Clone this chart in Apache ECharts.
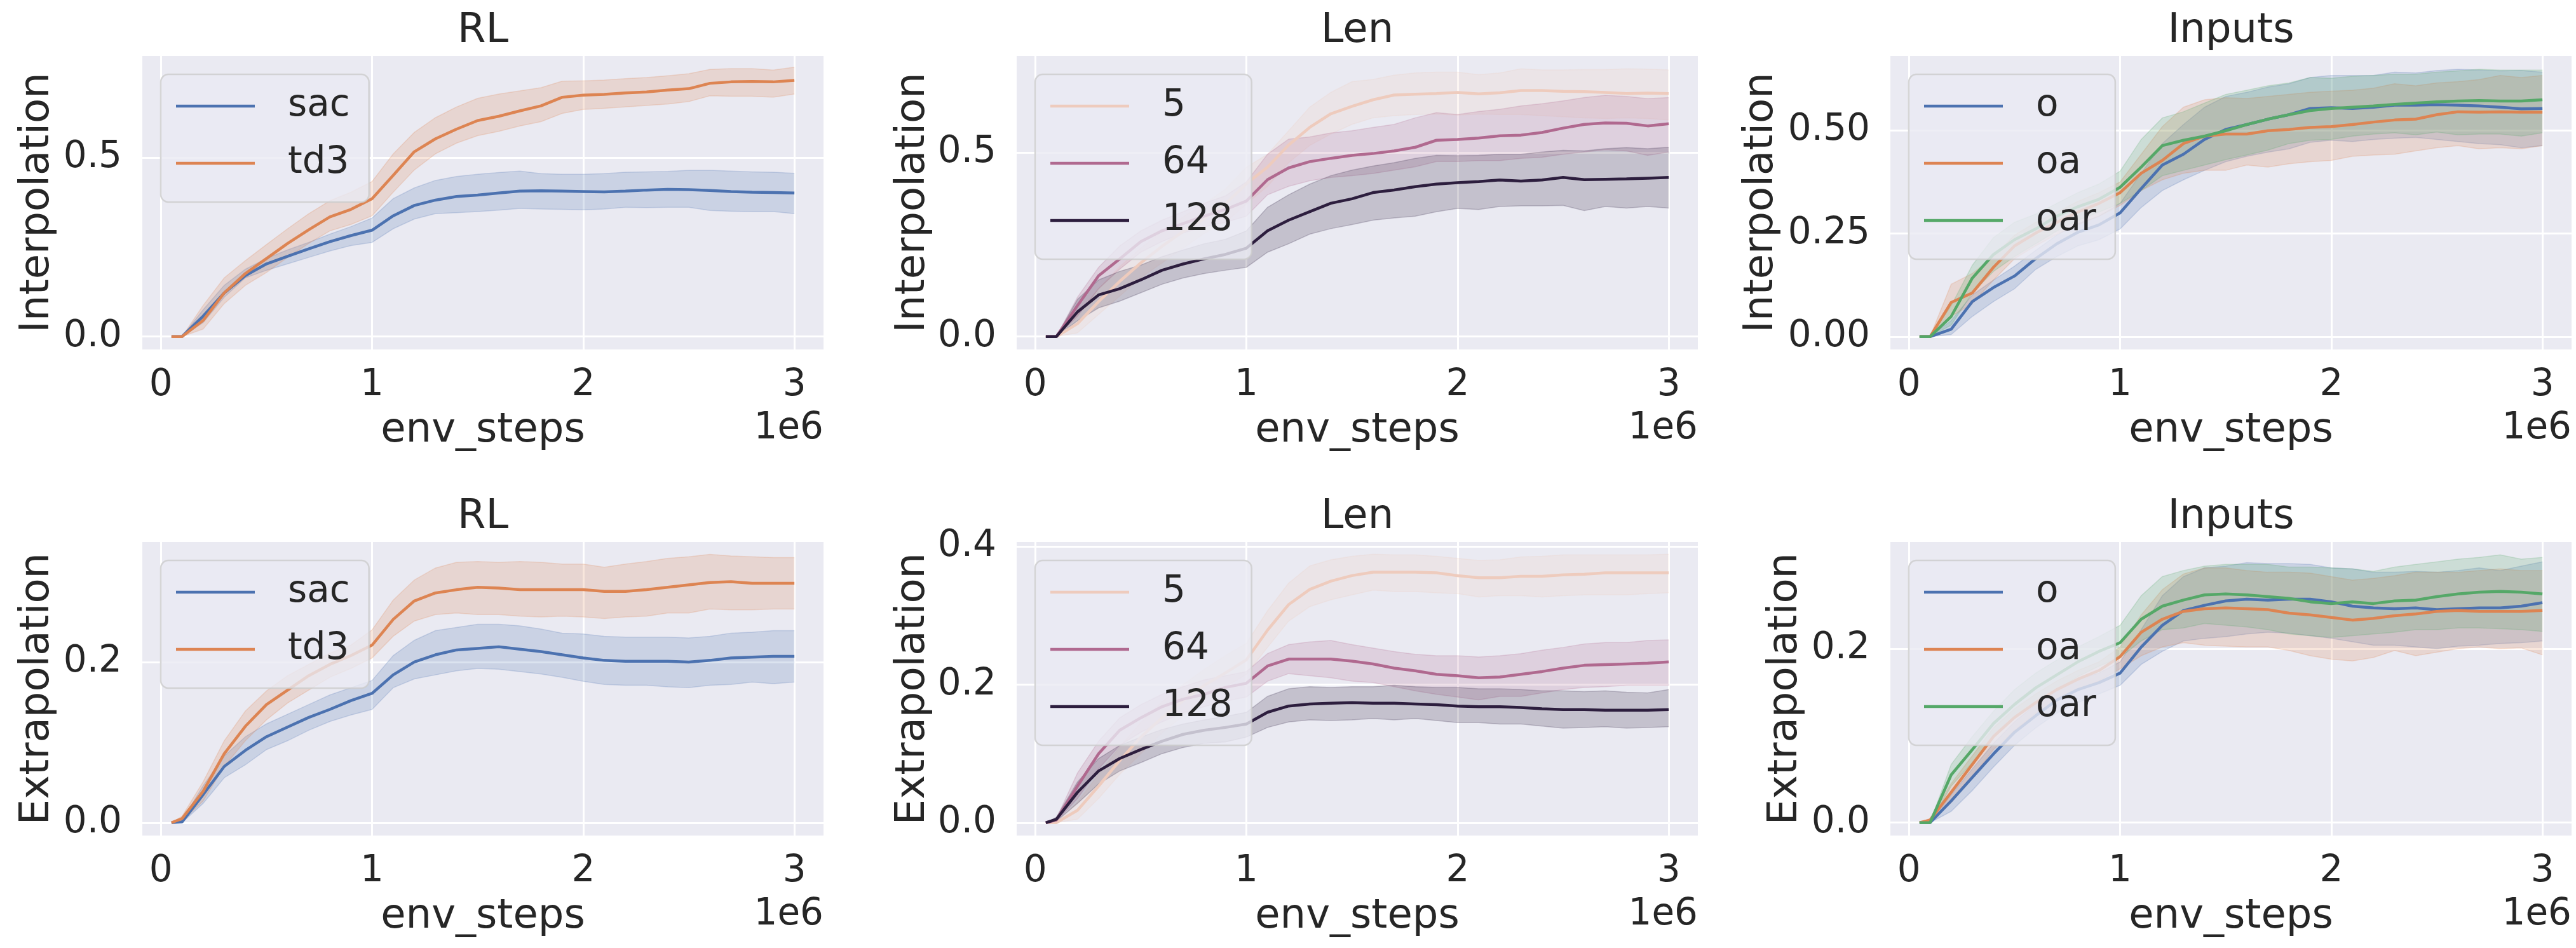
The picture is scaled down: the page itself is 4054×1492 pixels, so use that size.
<!DOCTYPE html>
<html><head><meta charset="utf-8">
<script src="https://cdn.jsdelivr.net/npm/echarts/dist/echarts.min.js"></script>
<style>html,body{margin:0;padding:0;background:#fff}#c{width:4054px;height:1492px}</style>
</head><body><div id="c"></div>
<script>
// ---------------- data ----------------
const envSteps = [50000,100000,200000,300000,400000,500000,600000,700000,800000,900000,1000000,
  1100000,1200000,1300000,1400000,1500000,1600000,1700000,1800000,1900000,2000000,
  2100000,2200000,2300000,2400000,2500000,2600000,2700000,2800000,2900000,3000000];
const xTickValues = [0,1000000,2000000,3000000];

// RL / Interpolation
const rlInterpSacMean = [0,0,0.057,0.122,0.17,0.203,0.224,0.245,0.265,0.282,0.297,0.337,0.366,0.381,0.391,0.395,0.401,0.406,0.407,0.406,0.405,0.404,0.406,0.409,0.411,0.41,0.408,0.405,0.403,0.402,0.401];
const rlInterpSacLo   = [0,0,0.039,0.11,0.164,0.185,0.203,0.221,0.239,0.254,0.263,0.301,0.328,0.343,0.346,0.349,0.353,0.358,0.356,0.355,0.354,0.356,0.361,0.36,0.361,0.361,0.352,0.35,0.349,0.349,0.343];
const rlInterpSacHi   = [0,0,0.075,0.143,0.188,0.218,0.242,0.263,0.286,0.307,0.331,0.385,0.415,0.436,0.447,0.453,0.458,0.462,0.455,0.453,0.453,0.455,0.459,0.46,0.461,0.464,0.464,0.462,0.46,0.459,0.456];
const rlInterpTd3Mean = [0,0,0.045,0.122,0.176,0.218,0.26,0.298,0.334,0.355,0.385,0.45,0.516,0.552,0.579,0.603,0.615,0.63,0.644,0.668,0.674,0.676,0.68,0.683,0.688,0.692,0.707,0.711,0.712,0.711,0.715];
const rlInterpTd3Lo   = [0,0,0.021,0.092,0.143,0.179,0.221,0.26,0.295,0.313,0.337,0.403,0.465,0.51,0.54,0.561,0.573,0.588,0.6,0.623,0.634,0.637,0.641,0.645,0.649,0.656,0.672,0.671,0.671,0.668,0.677];
const rlInterpTd3Hi   = [0,0,0.087,0.164,0.212,0.257,0.301,0.343,0.379,0.403,0.433,0.51,0.57,0.611,0.641,0.665,0.677,0.686,0.695,0.713,0.714,0.716,0.72,0.723,0.728,0.734,0.746,0.748,0.748,0.744,0.752];

// Len / Interpolation
const lenInterp5Mean   = [0,0,0.035,0.095,0.15,0.2,0.245,0.285,0.32,0.36,0.415,0.46,0.52,0.568,0.605,0.625,0.643,0.656,0.658,0.66,0.663,0.659,0.662,0.668,0.668,0.666,0.665,0.663,0.66,0.661,0.66];
const lenInterp5Lo     = [0,0,0.01,0.06,0.11,0.16,0.2,0.24,0.28,0.31,0.36,0.408,0.472,0.519,0.55,0.576,0.594,0.6,0.603,0.604,0.601,0.604,0.603,0.603,0.6,0.597,0.594,0.592,0.594,0.592,0.588];
const lenInterp5Hi     = [0,0,0.06,0.13,0.19,0.24,0.285,0.325,0.36,0.4,0.46,0.495,0.559,0.623,0.663,0.692,0.698,0.71,0.716,0.718,0.718,0.711,0.716,0.727,0.724,0.724,0.725,0.725,0.727,0.726,0.724];
const lenInterp64Mean  = [0,0,0.084,0.165,0.211,0.258,0.287,0.307,0.327,0.345,0.368,0.426,0.458,0.475,0.484,0.492,0.497,0.504,0.514,0.533,0.535,0.539,0.545,0.547,0.554,0.566,0.576,0.58,0.579,0.572,0.578];
const lenInterp64Lo    = [0,0,0.055,0.13,0.183,0.229,0.258,0.281,0.298,0.31,0.327,0.385,0.408,0.423,0.432,0.437,0.443,0.452,0.461,0.475,0.475,0.478,0.478,0.484,0.487,0.495,0.501,0.507,0.504,0.492,0.501];
const lenInterp64Hi    = [0,0,0.107,0.188,0.246,0.287,0.316,0.339,0.362,0.382,0.42,0.495,0.536,0.542,0.553,0.559,0.568,0.576,0.594,0.608,0.603,0.611,0.617,0.626,0.632,0.64,0.649,0.655,0.652,0.646,0.649];
const lenInterp128Mean = [0,0,0.067,0.113,0.13,0.154,0.18,0.197,0.211,0.223,0.24,0.287,0.316,0.339,0.362,0.374,0.391,0.398,0.407,0.414,0.418,0.421,0.425,0.422,0.425,0.432,0.426,0.427,0.428,0.43,0.432];
const lenInterp128Lo   = [0,0,0.043,0.078,0.096,0.119,0.142,0.159,0.171,0.18,0.188,0.229,0.252,0.278,0.293,0.304,0.316,0.322,0.327,0.339,0.348,0.345,0.353,0.355,0.355,0.356,0.342,0.353,0.349,0.353,0.349];
const lenInterp128Hi   = [0,0,0.101,0.154,0.177,0.194,0.217,0.235,0.252,0.264,0.287,0.351,0.385,0.414,0.437,0.452,0.463,0.472,0.484,0.492,0.491,0.492,0.495,0.495,0.501,0.506,0.504,0.51,0.513,0.51,0.514];

// Inputs / Interpolation
const inInterpOMean   = [0,0,0.018,0.085,0.119,0.147,0.189,0.225,0.253,0.271,0.3,0.359,0.416,0.442,0.478,0.502,0.514,0.527,0.538,0.553,0.555,0.553,0.556,0.561,0.561,0.562,0.561,0.559,0.556,0.552,0.553];
const inInterpOLo     = [0,0,0.005,0.049,0.085,0.116,0.163,0.194,0.22,0.235,0.261,0.313,0.354,0.38,0.403,0.424,0.437,0.447,0.455,0.471,0.476,0.473,0.478,0.481,0.483,0.478,0.473,0.468,0.465,0.458,0.463];
const inInterpOHi     = [0,0,0.039,0.101,0.137,0.171,0.209,0.246,0.274,0.292,0.323,0.396,0.468,0.514,0.556,0.582,0.592,0.605,0.613,0.628,0.633,0.633,0.633,0.641,0.639,0.645,0.648,0.646,0.644,0.645,0.641];
const inInterpOaMean  = [0,0,0.083,0.106,0.168,0.22,0.251,0.277,0.302,0.323,0.349,0.396,0.427,0.468,0.486,0.491,0.491,0.499,0.502,0.507,0.509,0.514,0.52,0.525,0.527,0.538,0.545,0.544,0.545,0.544,0.544];
const inInterpOaLo    = [0,0,0.049,0.08,0.137,0.189,0.22,0.248,0.271,0.292,0.318,0.354,0.38,0.396,0.403,0.403,0.416,0.411,0.419,0.424,0.427,0.437,0.44,0.442,0.45,0.458,0.463,0.455,0.458,0.455,0.463];
const inInterpOaHi    = [0,0,0.127,0.153,0.194,0.246,0.277,0.302,0.328,0.349,0.375,0.442,0.509,0.556,0.574,0.579,0.577,0.582,0.587,0.592,0.595,0.597,0.602,0.613,0.608,0.615,0.618,0.623,0.633,0.628,0.633];
const inInterpOarMean = [0,0,0.049,0.142,0.199,0.235,0.261,0.292,0.315,0.333,0.362,0.411,0.463,0.476,0.486,0.499,0.514,0.527,0.538,0.548,0.553,0.556,0.559,0.563,0.566,0.569,0.571,0.572,0.571,0.571,0.574];
const inInterpOarLo   = [0,0,0.028,0.106,0.158,0.194,0.225,0.256,0.282,0.302,0.323,0.354,0.39,0.403,0.416,0.429,0.44,0.452,0.468,0.476,0.478,0.486,0.491,0.494,0.489,0.496,0.489,0.491,0.491,0.486,0.494];
const inInterpOarHi   = [0,0,0.075,0.173,0.24,0.277,0.297,0.323,0.349,0.37,0.401,0.478,0.53,0.545,0.566,0.587,0.597,0.608,0.615,0.628,0.626,0.631,0.633,0.636,0.636,0.641,0.644,0.648,0.646,0.646,0.646];

// RL / Extrapolation
const rlExtrapSacMean = [0,0.001,0.035,0.07,0.09,0.107,0.119,0.131,0.141,0.152,0.161,0.184,0.2,0.209,0.215,0.217,0.219,0.216,0.213,0.209,0.205,0.202,0.201,0.201,0.201,0.2,0.202,0.205,0.206,0.207,0.207];
const rlExtrapSacLo   = [0,0,0.024,0.056,0.072,0.091,0.102,0.115,0.126,0.134,0.141,0.168,0.179,0.184,0.189,0.192,0.191,0.188,0.185,0.181,0.176,0.172,0.171,0.171,0.169,0.168,0.171,0.172,0.175,0.173,0.175];
const rlExtrapSacHi   = [0,0.003,0.046,0.083,0.107,0.123,0.135,0.147,0.159,0.168,0.177,0.208,0.227,0.239,0.243,0.247,0.247,0.245,0.241,0.236,0.235,0.232,0.231,0.231,0.231,0.23,0.232,0.236,0.237,0.239,0.239];
const rlExtrapTd3Mean = [0,0.005,0.039,0.086,0.12,0.147,0.165,0.183,0.197,0.208,0.221,0.253,0.276,0.286,0.29,0.293,0.292,0.29,0.29,0.29,0.29,0.288,0.288,0.29,0.293,0.296,0.299,0.3,0.298,0.298,0.298];
const rlExtrapTd3Lo   = [0,0.002,0.027,0.07,0.102,0.128,0.149,0.165,0.181,0.192,0.205,0.232,0.251,0.259,0.261,0.259,0.259,0.257,0.256,0.257,0.256,0.254,0.256,0.257,0.261,0.261,0.266,0.265,0.265,0.266,0.266];
const rlExtrapTd3Hi   = [0,0.008,0.051,0.102,0.139,0.164,0.183,0.197,0.211,0.221,0.24,0.277,0.302,0.317,0.324,0.325,0.324,0.325,0.324,0.322,0.322,0.318,0.322,0.325,0.329,0.331,0.334,0.332,0.331,0.33,0.33];

// Len / Extrapolation
const lenExtrap5Mean   = [0,0,0.018,0.053,0.09,0.124,0.152,0.177,0.199,0.217,0.236,0.279,0.316,0.338,0.35,0.358,0.363,0.363,0.363,0.362,0.358,0.355,0.355,0.357,0.357,0.359,0.36,0.362,0.362,0.362,0.362];
const lenExtrap5Lo     = [0,0,0.005,0.035,0.07,0.1,0.13,0.155,0.178,0.197,0.215,0.254,0.292,0.313,0.323,0.33,0.337,0.335,0.335,0.333,0.332,0.327,0.329,0.329,0.327,0.329,0.33,0.33,0.33,0.332,0.333];
const lenExtrap5Hi     = [0,0,0.03,0.07,0.11,0.145,0.175,0.2,0.222,0.242,0.26,0.307,0.347,0.372,0.381,0.386,0.389,0.388,0.388,0.386,0.383,0.38,0.381,0.385,0.386,0.388,0.388,0.388,0.388,0.388,0.389];
const lenExtrap64Mean  = [0,0.004,0.053,0.1,0.134,0.152,0.168,0.179,0.186,0.196,0.202,0.227,0.237,0.237,0.237,0.234,0.23,0.224,0.22,0.215,0.213,0.21,0.211,0.215,0.219,0.224,0.228,0.229,0.23,0.231,0.233];
const lenExtrap64Lo    = [0,0.002,0.035,0.078,0.112,0.131,0.146,0.159,0.168,0.176,0.182,0.205,0.216,0.213,0.21,0.205,0.203,0.197,0.191,0.186,0.182,0.178,0.183,0.183,0.188,0.193,0.196,0.197,0.199,0.199,0.199];
const lenExtrap64Hi    = [0,0.006,0.072,0.118,0.152,0.171,0.186,0.197,0.207,0.213,0.219,0.245,0.258,0.262,0.264,0.258,0.253,0.248,0.244,0.242,0.242,0.24,0.242,0.245,0.25,0.254,0.259,0.261,0.261,0.264,0.265];
const lenExtrap128Mean = [0,0.005,0.044,0.075,0.093,0.106,0.118,0.128,0.134,0.138,0.143,0.16,0.169,0.172,0.173,0.174,0.173,0.173,0.172,0.171,0.169,0.168,0.168,0.167,0.165,0.164,0.164,0.163,0.163,0.163,0.164];
const lenExtrap128Lo   = [0,0.002,0.028,0.056,0.075,0.087,0.1,0.109,0.115,0.117,0.124,0.138,0.146,0.149,0.148,0.149,0.151,0.149,0.151,0.148,0.145,0.145,0.143,0.143,0.14,0.137,0.138,0.139,0.137,0.138,0.139];
const lenExtrap128Hi   = [0,0.008,0.059,0.093,0.112,0.124,0.135,0.143,0.149,0.154,0.16,0.183,0.194,0.197,0.196,0.197,0.197,0.199,0.197,0.196,0.196,0.194,0.194,0.193,0.191,0.191,0.19,0.191,0.189,0.188,0.193];

// Inputs / Extrapolation
const inExtrapOMean   = [0,0,0.025,0.052,0.079,0.104,0.123,0.141,0.153,0.161,0.172,0.202,0.227,0.244,0.25,0.255,0.257,0.256,0.257,0.257,0.254,0.249,0.247,0.246,0.247,0.245,0.246,0.247,0.247,0.249,0.253];
const inExtrapOLo     = [0,0,0.013,0.037,0.064,0.089,0.109,0.126,0.138,0.148,0.158,0.182,0.197,0.209,0.212,0.214,0.217,0.219,0.218,0.215,0.212,0.208,0.204,0.204,0.202,0.2,0.203,0.204,0.206,0.207,0.209];
const inExtrapOHi     = [0,0,0.032,0.062,0.091,0.116,0.136,0.153,0.165,0.172,0.185,0.222,0.261,0.283,0.293,0.295,0.299,0.298,0.298,0.297,0.293,0.292,0.288,0.288,0.289,0.288,0.29,0.293,0.29,0.295,0.3];
const inExtrapOaMean  = [0,0.003,0.035,0.067,0.099,0.121,0.138,0.153,0.165,0.175,0.191,0.219,0.234,0.243,0.246,0.247,0.246,0.245,0.241,0.239,0.236,0.233,0.235,0.238,0.24,0.243,0.244,0.243,0.243,0.243,0.244];
const inExtrapOaLo    = [0,0.001,0.023,0.052,0.084,0.106,0.126,0.141,0.153,0.163,0.177,0.192,0.202,0.207,0.204,0.203,0.202,0.202,0.198,0.192,0.188,0.186,0.19,0.198,0.192,0.196,0.2,0.202,0.2,0.201,0.193];
const inExtrapOaHi    = [0,0.005,0.045,0.077,0.109,0.131,0.148,0.163,0.175,0.185,0.202,0.239,0.268,0.286,0.293,0.293,0.29,0.288,0.288,0.287,0.283,0.279,0.281,0.284,0.288,0.288,0.288,0.29,0.292,0.29,0.29];
const inExtrapOarMean = [0,0,0.055,0.084,0.114,0.136,0.155,0.17,0.185,0.197,0.207,0.234,0.249,0.256,0.262,0.263,0.262,0.26,0.258,0.254,0.252,0.254,0.252,0.255,0.256,0.26,0.263,0.265,0.266,0.265,0.263];
const inExtrapOarLo   = [0,0,0.042,0.069,0.099,0.121,0.138,0.153,0.168,0.18,0.19,0.209,0.222,0.224,0.229,0.227,0.225,0.222,0.217,0.215,0.213,0.215,0.217,0.219,0.222,0.222,0.224,0.224,0.223,0.222,0.22];
const inExtrapOarHi   = [0,0,0.067,0.099,0.128,0.153,0.172,0.187,0.202,0.214,0.227,0.261,0.283,0.29,0.295,0.297,0.297,0.297,0.294,0.294,0.293,0.292,0.289,0.294,0.297,0.3,0.303,0.305,0.308,0.303,0.305];

// tick labels per panel
const yTicksRLInterp = [0,0.5], yTicksLenInterp = [0,0.5], yTicksInInterp = [0,0.25,0.5];
const yTicksRLExtrap = [0,0.2], yTicksLenExtrap = [0,0.2,0.4], yTicksInExtrap = [0,0.2];

// ---------------- styling / layout ----------------
const FONT = 'DejaVu Sans', TXT = '#262626';
const BLUE = '#4c72b0', ORANGE = '#dd8452', GREEN = '#55a868';
const L5 = '#eecbbd', L64 = '#b0698f', L128 = '#2d1e3e';
const COLS = [224, 1600, 2975], ROWS = [88, 853], GW = 1072, GH = 462;

const panels = [
  {title:'RL', ylab:'Interpolation', row:0, col:0, yr:[-0.036,0.7835], ticks:yTicksRLInterp, dec:1, ygap:133,
   ser:[['sac',BLUE,rlInterpSacMean,rlInterpSacLo,rlInterpSacHi],['td3',ORANGE,rlInterpTd3Mean,rlInterpTd3Lo,rlInterpTd3Hi]]},
  {title:'Len', ylab:'Interpolation', row:0, col:1, yr:[-0.035,0.762], ticks:yTicksLenInterp, dec:1, ygap:131,
   ser:[['5',L5,lenInterp5Mean,lenInterp5Lo,lenInterp5Hi],['64',L64,lenInterp64Mean,lenInterp64Lo,lenInterp64Hi],['128',L128,lenInterp128Mean,lenInterp128Lo,lenInterp128Hi]]},
  {title:'Inputs', ylab:'Interpolation', row:0, col:2, yr:[-0.031,0.6803], ticks:yTicksInInterp, dec:2, ygap:171,
   ser:[['o',BLUE,inInterpOMean,inInterpOLo,inInterpOHi],['oa',ORANGE,inInterpOaMean,inInterpOaLo,inInterpOaHi],['oar',GREEN,inInterpOarMean,inInterpOarLo,inInterpOarHi]]},
  {title:'RL', ylab:'Extrapolation', row:1, col:0, yr:[-0.016,0.3494], ticks:yTicksRLExtrap, dec:1, ygap:133,
   ser:[['sac',BLUE,rlExtrapSacMean,rlExtrapSacLo,rlExtrapSacHi],['td3',ORANGE,rlExtrapTd3Mean,rlExtrapTd3Lo,rlExtrapTd3Hi]]},
  {title:'Len', ylab:'Extrapolation', row:1, col:1, yr:[-0.0186,0.4067], ticks:yTicksLenExtrap, dec:1, ygap:131,
   ser:[['5',L5,lenExtrap5Mean,lenExtrap5Lo,lenExtrap5Hi],['64',L64,lenExtrap64Mean,lenExtrap64Lo,lenExtrap64Hi],['128',L128,lenExtrap128Mean,lenExtrap128Lo,lenExtrap128Hi]]},
  {title:'Inputs', ylab:'Extrapolation', row:1, col:2, yr:[-0.0148,0.3228], ticks:yTicksInExtrap, dec:1, ygap:133,
   ser:[['o',BLUE,inExtrapOMean,inExtrapOLo,inExtrapOHi],['oa',ORANGE,inExtrapOaMean,inExtrapOaLo,inExtrapOaHi],['oar',GREEN,inExtrapOarMean,inExtrapOarLo,inExtrapOarHi]]}
];

const pts = ys => envSteps.map((x,k)=>[x, ys[k]]);

// error band drawn through the axis scale (api.coord)
function bandSeries(i, c, lo, hi) {
  return {type:'custom', xAxisIndex:i, yAxisIndex:i, silent:true, clip:true,
    data: envSteps.map((x,k)=>[x, lo[k], hi[k]]),
    encode:{x:0, y:[1,2]},
    renderItem:(params, api)=>{
      if (params.dataIndex !== 0) return null;
      const up = envSteps.map((x,k)=>api.coord([x, hi[k]]));
      const dn = envSteps.map((x,k)=>api.coord([x, lo[k]]));
      const poly = up.concat(dn.slice().reverse());
      return {type:'group', children:[
        {type:'polygon', shape:{points:poly}, style:{fill:c, opacity:0.2}},
        {type:'polyline', shape:{points:up}, style:{stroke:c, fill:null, lineWidth:1.5, opacity:0.22}},
        {type:'polyline', shape:{points:dn}, style:{stroke:c, fill:null, lineWidth:1.5, opacity:0.22}}
      ]};
    }};
}

const grid=[], xAxis=[], yAxis=[], series=[], legend=[], graphic=[];
panels.forEach((p,i)=>{
  const left = COLS[p.col], top = ROWS[p.row];
  grid.push({left, top, width:GW, height:GH, show:true, backgroundColor:'#eaeaf2', borderWidth:0, containLabel:false, outerBoundsMode:'none'});
  xAxis.push({gridIndex:i, type:'value', min:-88000, max:3138000,
    axisLine:{show:false}, axisTick:{show:false, customValues:xTickValues},
    axisLabel:{customValues:xTickValues, formatter:v=>String(Math.round(v/1e6)), fontSize:58, color:TXT, fontFamily:FONT, margin:28, hideOverlap:false},
    splitLine:{show:true, lineStyle:{color:'#ffffff', width:3}},
    name:'env_steps', nameLocation:'middle', nameGap:96, nameTextStyle:{fontSize:64, color:TXT, fontFamily:FONT}});
  yAxis.push({gridIndex:i, type:'value', min:p.yr[0], max:p.yr[1],
    axisLine:{show:false}, axisTick:{show:false, customValues:p.ticks},
    axisLabel:{customValues:p.ticks, formatter:v=>v.toFixed(p.dec), fontSize:58, color:TXT, fontFamily:FONT, margin:32, hideOverlap:false},
    splitLine:{show:true, lineStyle:{color:'#ffffff', width:3}},
    name:p.ylab, nameLocation:'middle', nameGap:p.ygap, nameTextStyle:{fontSize:64, color:TXT, fontFamily:FONT}});
  p.ser.forEach(([nm,c,mean,lo,hi])=>{
    series.push({type:'line', name:nm, xAxisIndex:i, yAxisIndex:i, data:pts(mean), symbol:'none', showSymbol:false,
      color:c, lineStyle:{color:c, width:4.5}, itemStyle:{color:c}, silent:true});
    series.push(bandSeries(i, c, lo, hi));
  });
  legend.push({data:p.ser.map(s=>s[0]), orient:'vertical', left:left+29, top:top+29,
    icon:'rect', itemWidth:124, itemHeight:4.5, itemGap:32, padding:[21,30,32,24],
    backgroundColor:'rgba(234,234,242,0.8)', borderColor:'rgba(204,204,204,0.8)', borderWidth:2.5, borderRadius:12,
    selectedMode:false, itemStyle:{borderWidth:0},
    textStyle:{fontSize:58, lineHeight:58, color:TXT, fontFamily:FONT, padding:[0,0,0,47]}});
  graphic.push({type:'text', x:left+GW/2, y:top-71, silent:true,
    style:{text:p.title, align:'center', verticalAlign:'top', fontSize:64, fontFamily:FONT, fill:TXT}});
  graphic.push({type:'text', x:left+GW, y:top+GH+96, silent:true,
    style:{text:'1e6', align:'right', verticalAlign:'top', fontSize:58, fontFamily:FONT, fill:TXT}});
});

const chart = echarts.init(document.getElementById('c'), null, {renderer:'canvas'});
chart.setOption({animation:false, backgroundColor:'#ffffff', grid, xAxis, yAxis, series, legend, graphic, tooltip:{show:false}});
</script></body></html>
